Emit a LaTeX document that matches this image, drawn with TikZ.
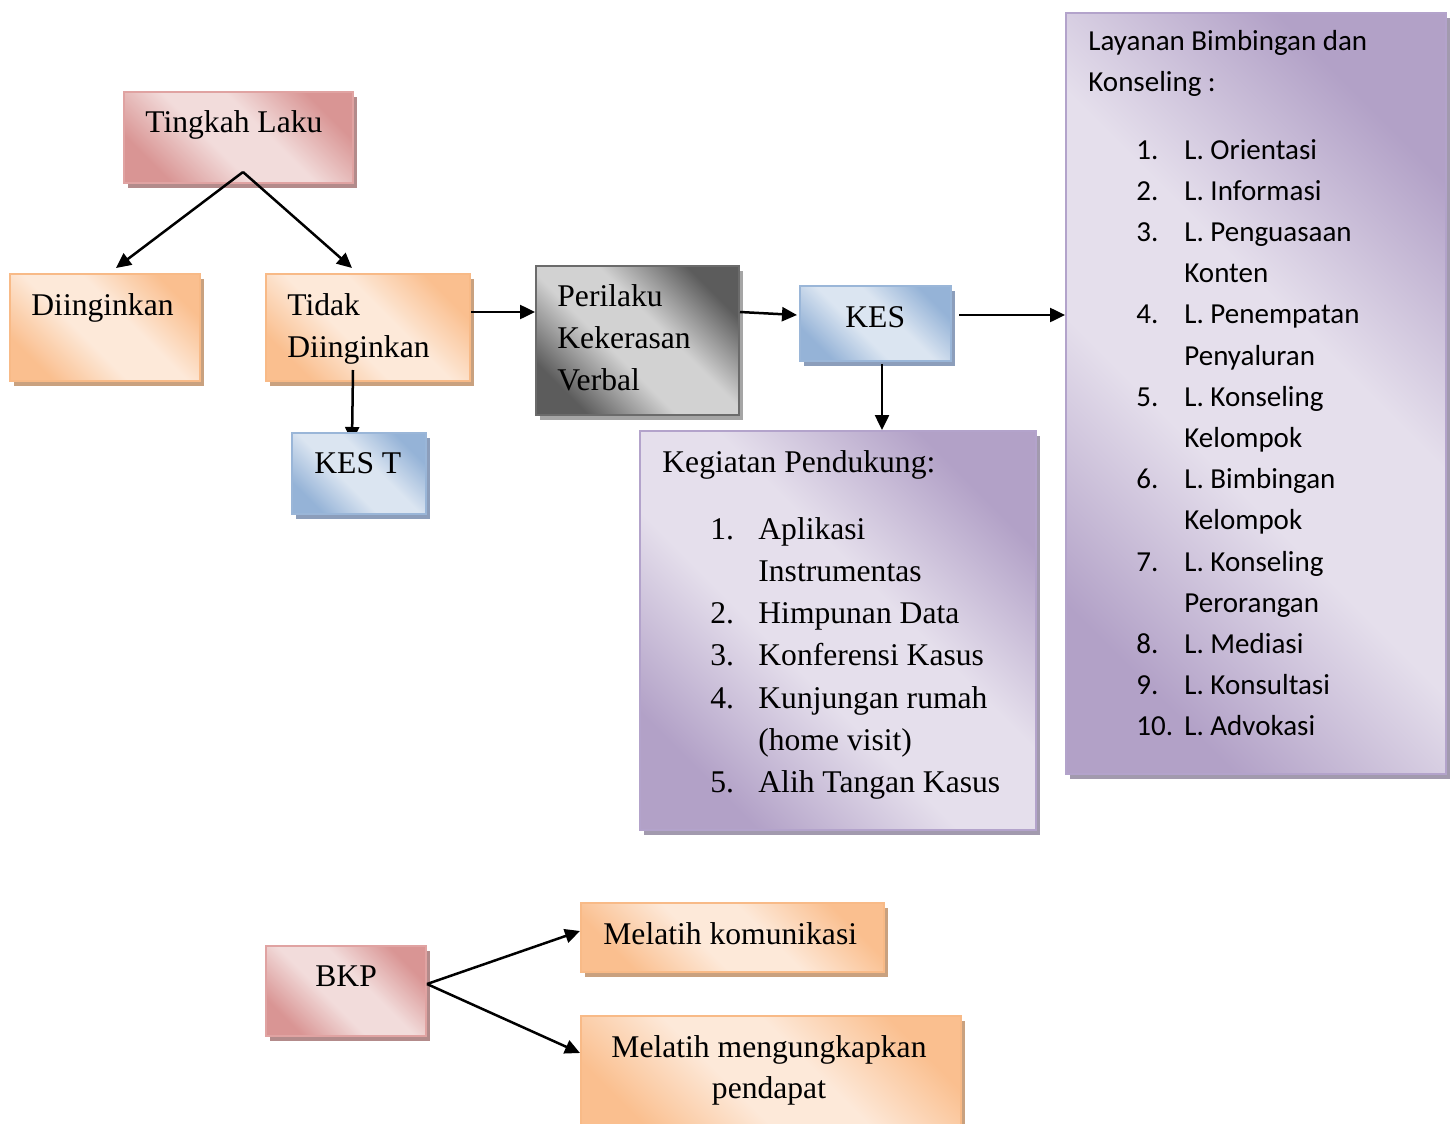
\documentclass[tikz,border=0pt]{standalone}
\usepackage{fontspec}
\setmainfont{Liberation Serif}
\newfontfamily\calfont{Carlito}
\usetikzlibrary{arrows.meta,shadows,calc}
\definecolor{pinkD}{HTML}{D99594}
\definecolor{pinkL}{HTML}{F2DCDB}
\definecolor{pinkB}{HTML}{E0A3A2}
\definecolor{pinkS}{HTML}{B38B8B}
\definecolor{orangeD}{HTML}{FABF8F}
\definecolor{orangeL}{HTML}{FDE9D9}
\definecolor{orangeB}{HTML}{F8BA87}
\definecolor{orangeS}{HTML}{C9A17F}
\definecolor{blueD}{HTML}{95B3D7}
\definecolor{blueL}{HTML}{DBE5F1}
\definecolor{blueB}{HTML}{9AB6D8}
\definecolor{blueS}{HTML}{8C9EBB}
\definecolor{greyD}{HTML}{5C5C5C}
\definecolor{greyL}{HTML}{D2D2D2}
\definecolor{greyB}{HTML}{6B6B6B}
\definecolor{greyS}{HTML}{A5A5A5}
\definecolor{purpD}{HTML}{B2A1C7}
\definecolor{purpL}{HTML}{E5DFEC}
\definecolor{purpB}{HTML}{B3A3CB}
\definecolor{purpS}{HTML}{A29AAE}
\colorlet{sdark}{pinkD}
\colorlet{slight}{pinkL}
\pgfdeclarehorizontalshading[sdark,slight]{wordgrad}{100bp}{color(0bp)=(sdark); color(25bp)=(sdark); color(43bp)=(slight); color(57bp)=(slight); color(75bp)=(sdark); color(100bp)=(sdark)}
\begin{document}
\begin{tikzpicture}[x=0.5pt,y=-0.5pt,
  boxbase/.style={draw, line width=1pt, inner sep=0pt, anchor=north west},
  shadedbox/.style n args={4}{boxbase, draw=#3,
     /utils/exec={\colorlet{sdark}{#1}\colorlet{slight}{#2}},
     shade, shading=wordgrad, shading angle=45,
     drop shadow={shadow xshift=2pt, shadow yshift=-2.5pt, fill=#4, opacity=1}},
  pinkbox/.style={shadedbox={pinkD}{pinkL}{pinkB}{pinkS}},
  orangebox/.style={shadedbox={orangeD}{orangeL}{orangeB}{orangeS}},
  bluebox/.style={shadedbox={blueD}{blueL}{blueB}{blueS}},
  greybox/.style={shadedbox={greyD}{greyL}{greyB}{greyS}},
  purplebox/.style={shadedbox={purpD}{purpL}{purpB}{purpS}},
  ttext/.style={font=\fontsize{15.8}{19}\selectfont, anchor=base west, inner sep=0pt},
  ctext/.style={font=\calfont\fontsize{14.5}{17}\selectfont, anchor=base west, inner sep=0pt},
  arr/.style={line width=1.25pt, -{Triangle[length=7.5pt,width=7pt]}}
]
\fill[white] (0,0) rectangle (1452,1124);
\useasboundingbox (0,0) rectangle (1452,1124);

% boxes
\node[pinkbox, minimum width=114.5pt, minimum height=45.5pt] (tl) at (123,91) {};
\node[orangebox, minimum width=95pt, minimum height=53.5pt] (din) at (9,273) {};
\node[orangebox, minimum width=102pt, minimum height=53.5pt] (tdk) at (265,273) {};
\node[greybox, minimum width=101.5pt, minimum height=74.5pt] (per) at (535,265) {};
\node[bluebox, minimum width=75.5pt, minimum height=37.5pt] (kes) at (799,285) {};
\node[purplebox, minimum width=198pt, minimum height=199.5pt] (keg) at (639,430) {};
\node[purplebox, minimum width=190pt, minimum height=380.5pt] (lay) at (1065,12) {};
\node[pinkbox, minimum width=80pt, minimum height=45pt] (bkp) at (265,945) {};
\node[orangebox, minimum width=151.5pt, minimum height=34.5pt] (mk) at (580,902) {};
\node[orangebox, minimum width=190pt, minimum height=60pt] (mm) at (580,1015) {};

% connectors
\coordinate (tlp) at ($(tl.south)+(4.5,-12)$);
\draw[arr] (tlp) -- ($(din.north)+(11,-5)$);
\draw[arr] (tlp) -- ($(tdk.north)+(-16,-5)$);
\coordinate (kestin) at (352,442);
\draw[arr] ($(tdk.south)+(-15,-12)$) -- (kestin);
\draw[arr] ($(tdk.east)+(0,-15.5)$) -- ($(per.west)+(0,-28.5)$);
\draw[arr] ($(per.east)+(0,-28.5)$) -- ($(kes.west)+(-2,-8.5)$);
\draw[arr] ($(kes.east)+(7,-8.5)$) -- ($(lay.west)+(0,-78.5)$);
\draw[arr] ($(kes.south)+(6.5,2)$) -- ($(keg.north)+(44,0)$);
\draw[arr] ($(bkp.east)+(0,-7)$) -- ($(mk.west)+(0,-6.5)$);
\draw[arr] ($(bkp.east)+(0,-7)$) -- ($(mm.west)+(0,-23)$);

\node[bluebox, minimum width=67pt, minimum height=40.5pt] (kest) at (291,432) {};

% texts
\node[ttext] (tlt) at (145,132) {Tingkah Laku};
\node[ttext] (dint) at (31,315) {Diinginkan};
\node[ttext] (tdka) at (287,315) {Tidak};
\node[ttext] (tdkb) at (287,357) {Diinginkan};
\node[ttext] (kestt) at (314,473) {KES T};
\node[ttext] (pera) at (557,306) {Perilaku};
\node[ttext] (perb) at (557,348) {Kekerasan};
\node[ttext] (perc) at (557,390) {Verbal};
\node[ttext] (kest2) at (845,327) {KES};
\node[ttext] (kegh) at (662,472) {Kegiatan Pendukung:};
\foreach \k/\n/\t in {0/1./Aplikasi, 1//Instrumentas, 2/2./Himpunan Data, 3/3./Konferensi Kasus,
  4/4./Kunjungan rumah, 5//(home visit), 6/5./Alih Tangan Kasus}{
  \node[ttext, name=kegn\k] at (710,539+42.3*\k) {\n};
  \node[ttext, name=kegt\k] at (758,539+42.3*\k) {\t};
}
\node[ctext] (layh1) at (1088,50) {Layanan Bimbingan dan};
\node[ctext] (layh2) at (1088,91) {Konseling :};
\foreach \k/\n/\t in {0/1./L. Orientasi, 1/2./L. Informasi, 2/3./L. Penguasaan, 3//Konten,
  4/4./L. Penempatan, 5//Penyaluran, 6/5./L. Konseling, 7//Kelompok, 8/6./L. Bimbingan,
  9//Kelompok, 10/7./L. Konseling, 11//Perorangan, 12/8./L. Mediasi, 13/9./L. Konsultasi,
  14/10./L. Advokasi}{
  \node[ctext, name=layn\k] at (1136,159+41.2*\k) {\n};
  \node[ctext, name=layt\k] at (1184,159+41.2*\k) {\t};
}
\node[ttext] (bkpt) at (315,986) {BKP};
\node[ttext] (mkt) at (603,944) {Melatih komunikasi};
\node[ttext, anchor=base] (mma) at (769,1057) {Melatih mengungkapkan};
\node[ttext, anchor=base] (mmb) at (769,1098) {pendapat};
\end{tikzpicture}
\end{document}
